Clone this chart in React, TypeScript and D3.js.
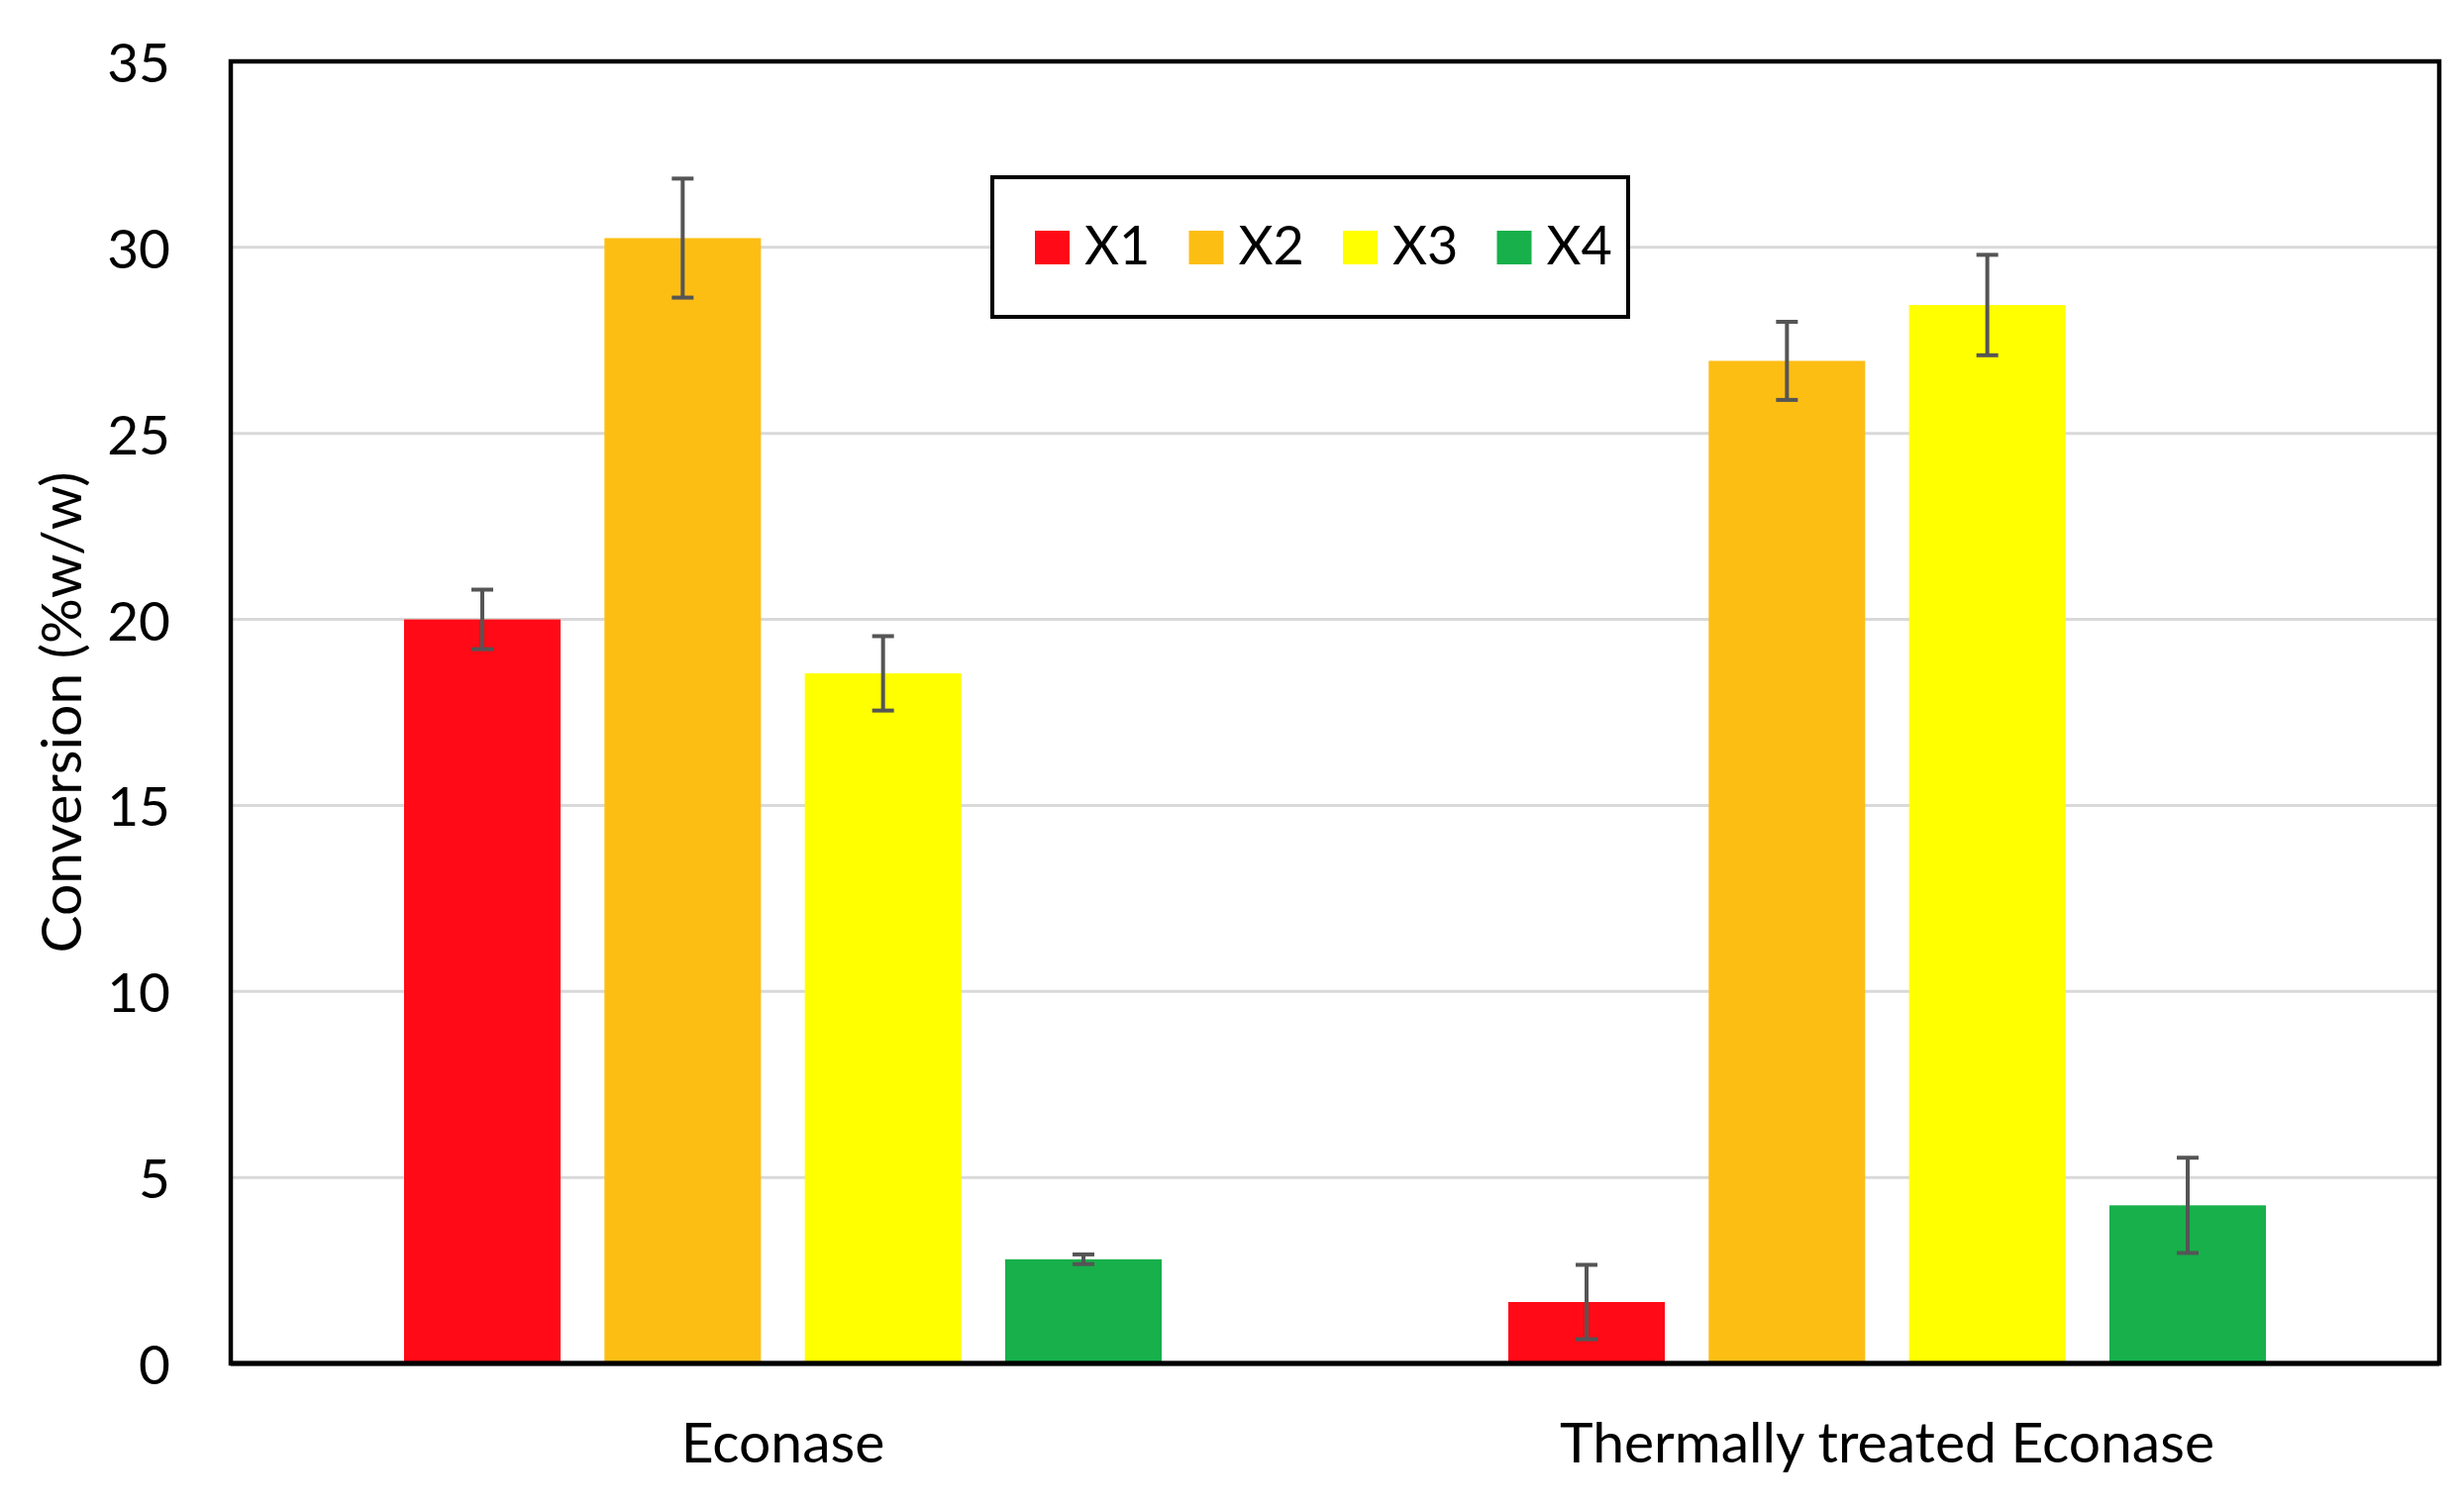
import * as d3 from "d3"

const categories = ["Econase", "Thermally treated Econase"]
const series = ["X1", "X2", "X3", "X4"]
const colors = ["#ff0a16", "#fdbe14", "#ffff00", "#17b04b"]
// values[category][series]
const econaseValues = [20.0, 30.25, 18.55, 2.8]
const econaseErrors = [0.8, 1.6, 1.0, 0.13]
const thermalValues = [1.65, 26.95, 28.45, 4.25]
const thermalErrors = [1.0, 1.05, 1.35, 1.28]
const yTicks = [0, 5, 10, 15, 20, 25, 30, 35]

const W = 2488, H = 1522
const m = { left: 233, right: 2463, top: 62, bottom: 1377 }
const FONT = "Lato, 'Open Sans', sans-serif"

export default function App() {
  const values = [econaseValues, thermalValues]
  const errors = [econaseErrors, thermalErrors]

  const x0 = d3.scaleBand().domain(categories).range([m.left, m.right])
  const x1 = d3.scaleBand().domain(series).range([0, x0.bandwidth()]).paddingInner(0.219).paddingOuter(0.865)
  const y = d3.scaleLinear().domain([0, 35]).range([m.bottom, m.top])
  const bw = x1.bandwidth()
  const cap = 22

  return (
    <svg width={W} height={H} style={{ position: "absolute", left: 0, top: 0, background: "#fff" }} fontFamily={FONT}>
      <rect x={0} y={0} width={W} height={H} fill="#fff" />
      {yTicks.filter(t => t > 0 && t < 35).map(t => (
        <line key={t} x1={m.left} x2={m.right} y1={y(t)} y2={y(t)} stroke="#d9d9d9" strokeWidth={3} />
      ))}
      {categories.map((c, ci) => (
        <g key={c} transform={`translate(${x0(c)},0)`}>
          {series.map((s, si) => {
            const v = values[ci][si], e = errors[ci][si]
            const cx = x1(s)! + bw / 2
            return (
              <g key={s}>
                <rect x={x1(s)} y={y(v)} width={bw} height={y(0) - y(v)} fill={colors[si]} />
                <g stroke="#555" strokeWidth={4}>
                  <line x1={cx} x2={cx} y1={y(v + e)} y2={y(v - e)} />
                  <line x1={cx - cap / 2} x2={cx + cap / 2} y1={y(v + e)} y2={y(v + e)} />
                  <line x1={cx - cap / 2} x2={cx + cap / 2} y1={y(v - e)} y2={y(v - e)} />
                </g>
              </g>
            )
          })}
          <text x={x0.bandwidth() / 2} y={1477} textAnchor="middle" fontSize={57} fill="#000">{c}</text>
        </g>
      ))}
      <rect x={m.left} y={m.top} width={m.right - m.left} height={m.bottom - m.top} fill="none" stroke="#000" strokeWidth={4.5} />
      <line x1={m.left} x2={m.right} y1={m.bottom} y2={m.bottom} stroke="#000" strokeWidth={5} />
      {yTicks.map(t => (
        <text key={t} x={172} y={y(t)} textAnchor="end" dominantBaseline="central" fontSize={55} fill="#000">{t}</text>
      ))}
      <text transform={`translate(60,${(m.top + m.bottom) / 2}) rotate(-90)`} textAnchor="middle" dominantBaseline="central" fontSize={57} fill="#000">
        Conversion (%w/w)
      </text>
      <rect x={1002} y={179} width={642} height={141} fill="#fff" stroke="#000" strokeWidth={4} />
      {series.map((s, i) => (
        <g key={s} transform={`translate(${1045 + i * 155.5},0)`}>
          <rect x={0} y={233} width={35} height={34} fill={colors[i]} />
          <text x={50} y={267} fontSize={54} fill="#000">{s}</text>
        </g>
      ))}
    </svg>
  )
}
